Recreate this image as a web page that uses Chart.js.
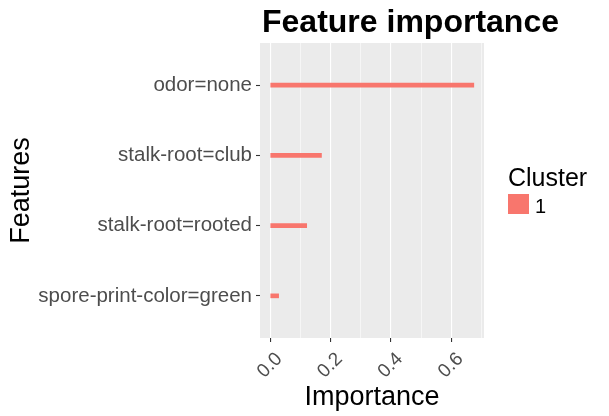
<!DOCTYPE html>
<html><head><meta charset="utf-8">
<script src="https://cdn.jsdelivr.net/npm/chart.js@4"></script>
<style>html,body{margin:0;padding:0;background:#fff;} canvas{display:block;}</style>
</head><body>
<canvas id="c" width="609" height="416"></canvas>
<script>
const features = ['odor=none', 'stalk-root=club', 'stalk-root=rooted', 'spore-print-color=green'];
const importance = [0.675, 0.170, 0.121, 0.028];
const clusterLabels = ['1'];
const clusterColors = ['#F8766D'];
const majorTicks = [0, 0.2, 0.4, 0.6];
const minorTicks = [0.1, 0.3, 0.5, 0.7];
const chartTitle = 'Feature importance';
const xTitle = 'Importance';
const yTitle = 'Features';
const legendTitle = 'Cluster';

const FONT = '"Liberation Sans", Arial, sans-serif';
const maxVal = Math.max(...importance);
const xMin = -0.05 * maxVal, xMax = maxVal * 1.05;
const positions = features.map((f, i) => i + 1);
const isMajor = v => majorTicks.some(m => Math.abs(m - v) < 1e-9);

const bgPlugin = {
  id: 'panelBg',
  beforeDraw(chart) {
    const {ctx, chartArea: a} = chart;
    ctx.save();
    ctx.fillStyle = '#EBEBEB';
    ctx.fillRect(a.left, a.top, a.right - a.left, a.bottom - a.top);
    ctx.restore();
  }
};
const deco = {
  id: 'deco',
  afterDraw(chart) {
    const {ctx, chartArea: a} = chart;
    ctx.save();
    ctx.textAlign = 'left';
    ctx.textBaseline = 'alphabetic';
    ctx.fillStyle = '#000';
    ctx.font = 'bold 32px ' + FONT;
    ctx.fillText(chartTitle, a.left + 2, 32);
    ctx.font = '25px ' + FONT;
    ctx.fillText(legendTitle, 508, 186);
    clusterLabels.forEach((l, i) => {
      ctx.fillStyle = clusterColors[i];
      ctx.fillRect(508, 194 + i * 22, 21, 20);
      ctx.fillStyle = '#000';
      ctx.font = '20px ' + FONT;
      ctx.fillText(l, 535, 213 + i * 22);
    });
    ctx.restore();
  }
};

new Chart(document.getElementById('c'), {
  type: 'bar',
  data: {
    datasets: [{
      label: clusterLabels[0],
      data: features.map((f, i) => ({x: importance[i], y: positions[i]})),
      backgroundColor: clusterColors[0],
      barThickness: 4,
      borderWidth: 0
    }]
  },
  options: {
    indexAxis: 'y',
    responsive: false,
    animation: false,
    devicePixelRatio: 1,
    layout: {padding: {top: 43, right: 125, bottom: 0, left: 0}},
    plugins: {legend: {display: false}, title: {display: false}, tooltip: {enabled: false}},
    scales: {
      x: {
        type: 'linear', min: xMin, max: xMax, position: 'bottom', offset: false,
        afterBuildTicks: s => { s.ticks = [...majorTicks, ...minorTicks].sort((a, b) => a - b).map(v => ({value: v})); },
        afterFit: s => { s.height = 78; },
        border: {display: false},
        grid: {
          offset: false,
          color: '#FFFFFF',
          lineWidth: c => (c.tick && isMajor(c.tick.value)) ? 1.1 : 0.55,
          drawTicks: true, tickLength: 4,
          tickColor: c => (c.tick && isMajor(c.tick.value)) ? '#333333' : 'rgba(0,0,0,0)',
          tickWidth: 1.1
        },
        ticks: {
          autoSkip: false, minRotation: 45, maxRotation: 45, color: '#4D4D4D',
          font: {family: FONT, size: 19}, padding: 6, labelOffset: 9,
          callback: v => isMajor(v) ? v.toFixed(1) : ''
        },
        title: {display: true, text: xTitle, color: '#000', font: {family: FONT, size: 27}, padding: {top: 0, bottom: 2}}
      },
      y: {
        type: 'linear', min: 0.4, max: features.length + 0.6, reverse: true, position: 'left', offset: false,
        afterBuildTicks: s => { s.ticks = positions.map(v => ({value: v})); },
        afterFit: s => { s.width = 260; },
        border: {display: false},
        grid: {offset: false, drawOnChartArea: false, drawTicks: true, tickLength: 4, tickColor: '#333333', tickWidth: 1.1},
        ticks: {
          autoSkip: false, color: '#4D4D4D', font: {family: FONT, size: 20.5}, padding: 4,
          callback: v => features[Math.round(v) - 1] ?? ''
        },
        title: {display: true, text: yTitle, color: '#000', font: {family: FONT, size: 27}, padding: {top: 5, bottom: 0}}
      }
    }
  },
  plugins: [bgPlugin, deco]
});
</script>
</body></html>
